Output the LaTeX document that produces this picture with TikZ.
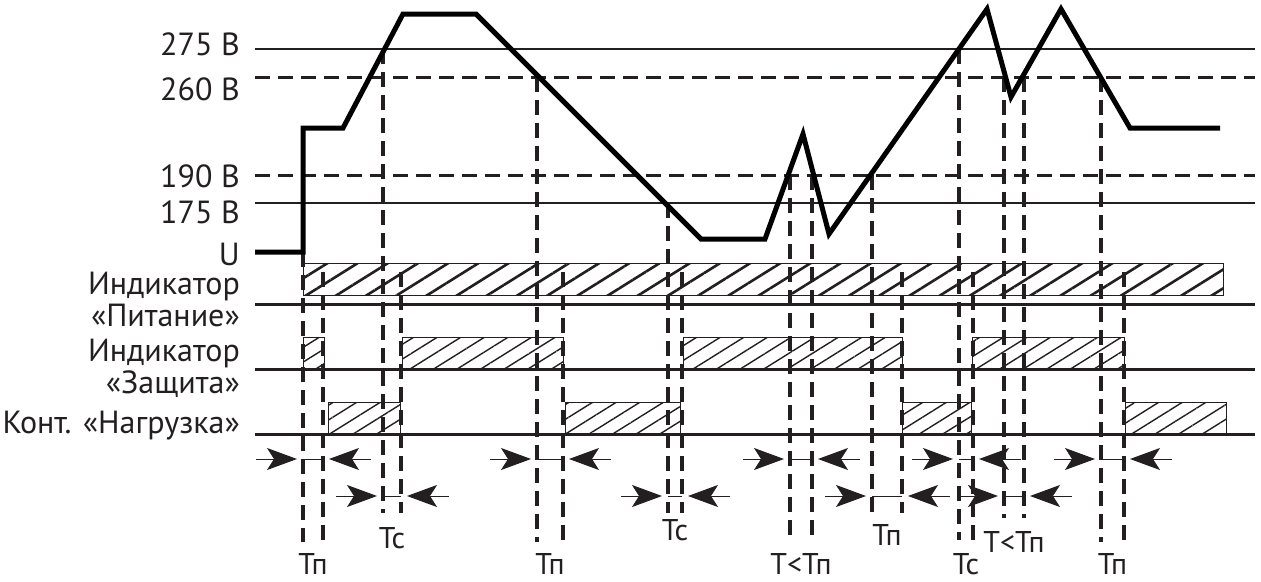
\documentclass[tikz,border=0pt]{standalone}
\usepackage{fontspec}
\setmainfont{PT Sans}
\usetikzlibrary{arrows.meta}
\usetikzlibrary{patterns.meta}
\definecolor{inkGrey}{RGB}{35,31,32}
\newcommand{\timeGap}[9]{%
  % Two marker lines, the arrows between them and the label below.
  \draw[markStyle] (#2,#4) -- (#2,#6);
  \draw[markStyle] (#3,#5) -- (#3,#6);
  \draw[gapStyle] ({#2-47},#7) -- ({#2-6},#7);
  \draw[thinStyle] (#2,#7) -- (#3,#7);
  \draw[gapStyle] ({#3+48},#7) -- ({#3+6},#7);
  \node[gapLabelStyle] (#1) at ({(#2+#3)/2},#9) {#8};
}

\begin{document}
\begin{tikzpicture}[%
  x=1pt,y=-1pt,%
  levelStyle/.style={line width=2pt,inkGrey},%
  levelDashStyle/.style={line width=3pt,inkGrey,dash pattern=on 15pt off 8pt},%
  baseStyle/.style={line width=3pt,inkGrey},%
  curveStyle/.style={line width=5pt,black},%
  markStyle/.style={line width=4pt,inkGrey,dash pattern=on 15pt off 8pt},%
  thinStyle/.style={line width=1pt,inkGrey},%
  gapStyle/.style={line width=1pt,inkGrey,-{Stealth[length=30pt,width=22pt,inset=7pt]}},%
  powerBar/.style={line width=1pt,inkGrey,pattern color=inkGrey,%
    pattern={Lines[angle=32,distance=16pt,line width=2.6pt]}},%
  stateBar/.style={line width=1pt,inkGrey,pattern color=inkGrey,%
    pattern={Lines[angle=32,distance=12.5pt,line width=1.4pt]}},%
  levelLabel/.style={anchor=base east,inner sep=0pt,text=inkGrey,%
    font=\fontsize{32}{35}\selectfont},%
  gapLabelStyle/.style={anchor=base,inner sep=0pt,text=inkGrey,%
    font=\fontsize{30}{33}\selectfont}%
]
%
\useasboundingbox (0,0) rectangle (1261,581);
%
\pgfmathsetmacro{\yHigh}{49}     % 275 V
\pgfmathsetmacro{\yHighRet}{77}  % 260 V
\pgfmathsetmacro{\yLowRet}{175}  % 190 V
\pgfmathsetmacro{\yLow}{203}     % 175 V
\pgfmathsetmacro{\yU}{252}
\pgfmathsetmacro{\yPow}{304}
\pgfmathsetmacro{\yProt}{369}
\pgfmathsetmacro{\yLoad}{434}
\pgfmathsetmacro{\rowA}{459}
\pgfmathsetmacro{\rowB}{496}
%
% Labels on the left.
\node[levelLabel] (lblHigh) at (240,55) {275 В};
\node[levelLabel] (lblHighRet) at (240,100) {260 В};
\node[levelLabel] (lblLowRet) at (240,187) {190 В};
\node[levelLabel] (lblLow) at (240,223) {175 В};
\node[levelLabel] (lblU) at (240,265) {U};
\node[levelLabel] (lblPow) at (240,294) {Индикатор};
\node[levelLabel] (lblPowName) at (240,326) {«Питание»};
\node[levelLabel] (lblProt) at (240,361) {Индикатор};
\node[levelLabel] (lblProtName) at (240,393) {«Защита»};
\node[levelLabel] (lblLoad) at (240,433) {Конт. «Нагрузка»};
%
% Voltage levels.
\draw[levelStyle] (255,\yHigh) -- (1255,\yHigh);
\draw[levelDashStyle] (255,\yHighRet) -- (1255,\yHighRet);
\draw[levelDashStyle] (255,\yLowRet) -- (1255,\yLowRet);
\draw[levelStyle] (255,\yLow) -- (1255,\yLow);
%
% Indicator and contact states.
\draw[powerBar] (303,263) rectangle (1223,295);
\foreach \xa/\xb in {303/324,402/563,683/902,972/1124}
  \draw[stateBar] (\xa,337) rectangle (\xb,\yProt);
\foreach \xa/\xb in {328/400,565/680,902/971,1125/1226}
  \draw[stateBar] (\xa,402) rectangle (\xb,\yLoad);
\draw[baseStyle] (255,\yPow) -- (1255,\yPow);
\draw[baseStyle] (255,\yProt) -- (1255,\yProt);
\draw[baseStyle] (255,\yLoad) -- (1255,\yLoad);
%
% Time intervals.
\timeGap{gapA}{303}{323}{\yU}{272}{542}{\rowA}{Тп}{574}
\timeGap{gapB}{383}{401}{\yHigh}{272}{513}{\rowB}{Тс}{548}
\timeGap{gapC}{537}{563}{\yHighRet}{272}{542}{\rowA}{Тп}{574}
\timeGap{gapD}{668}{682}{\yLow}{272}{513}{\rowB}{Тс}{540}
\timeGap{gapE}{790}{812}{\yLowRet}{\yLowRet}{542}{\rowA}{Т<Тп}{574}
\timeGap{gapF}{872}{902}{\yLowRet}{272}{513}{\rowB}{Тп}{545}
\timeGap{gapG}{959}{973}{\yHigh}{272}{540}{\rowA}{Тс}{574}
\timeGap{gapH}{1004}{1024}{\yHighRet}{\yHighRet}{518}{\rowB}{Т<Тп}{552}
\timeGap{gapI}{1101}{1124}{\yHighRet}{272}{542}{\rowA}{Тп}{574}
%
% The voltage U.
\draw[curveStyle] (255,\yU) -- (303,\yU) -- (303,128) -- (343,128)
  -- (403,14) -- (476,14) -- (701,239) -- (765,239) -- (803,134)
  -- (829,234) -- (987,9) -- (1011,97) -- (1061,9) -- (1130,128)
  -- (1220,128);
\end{tikzpicture}
\end{document}
